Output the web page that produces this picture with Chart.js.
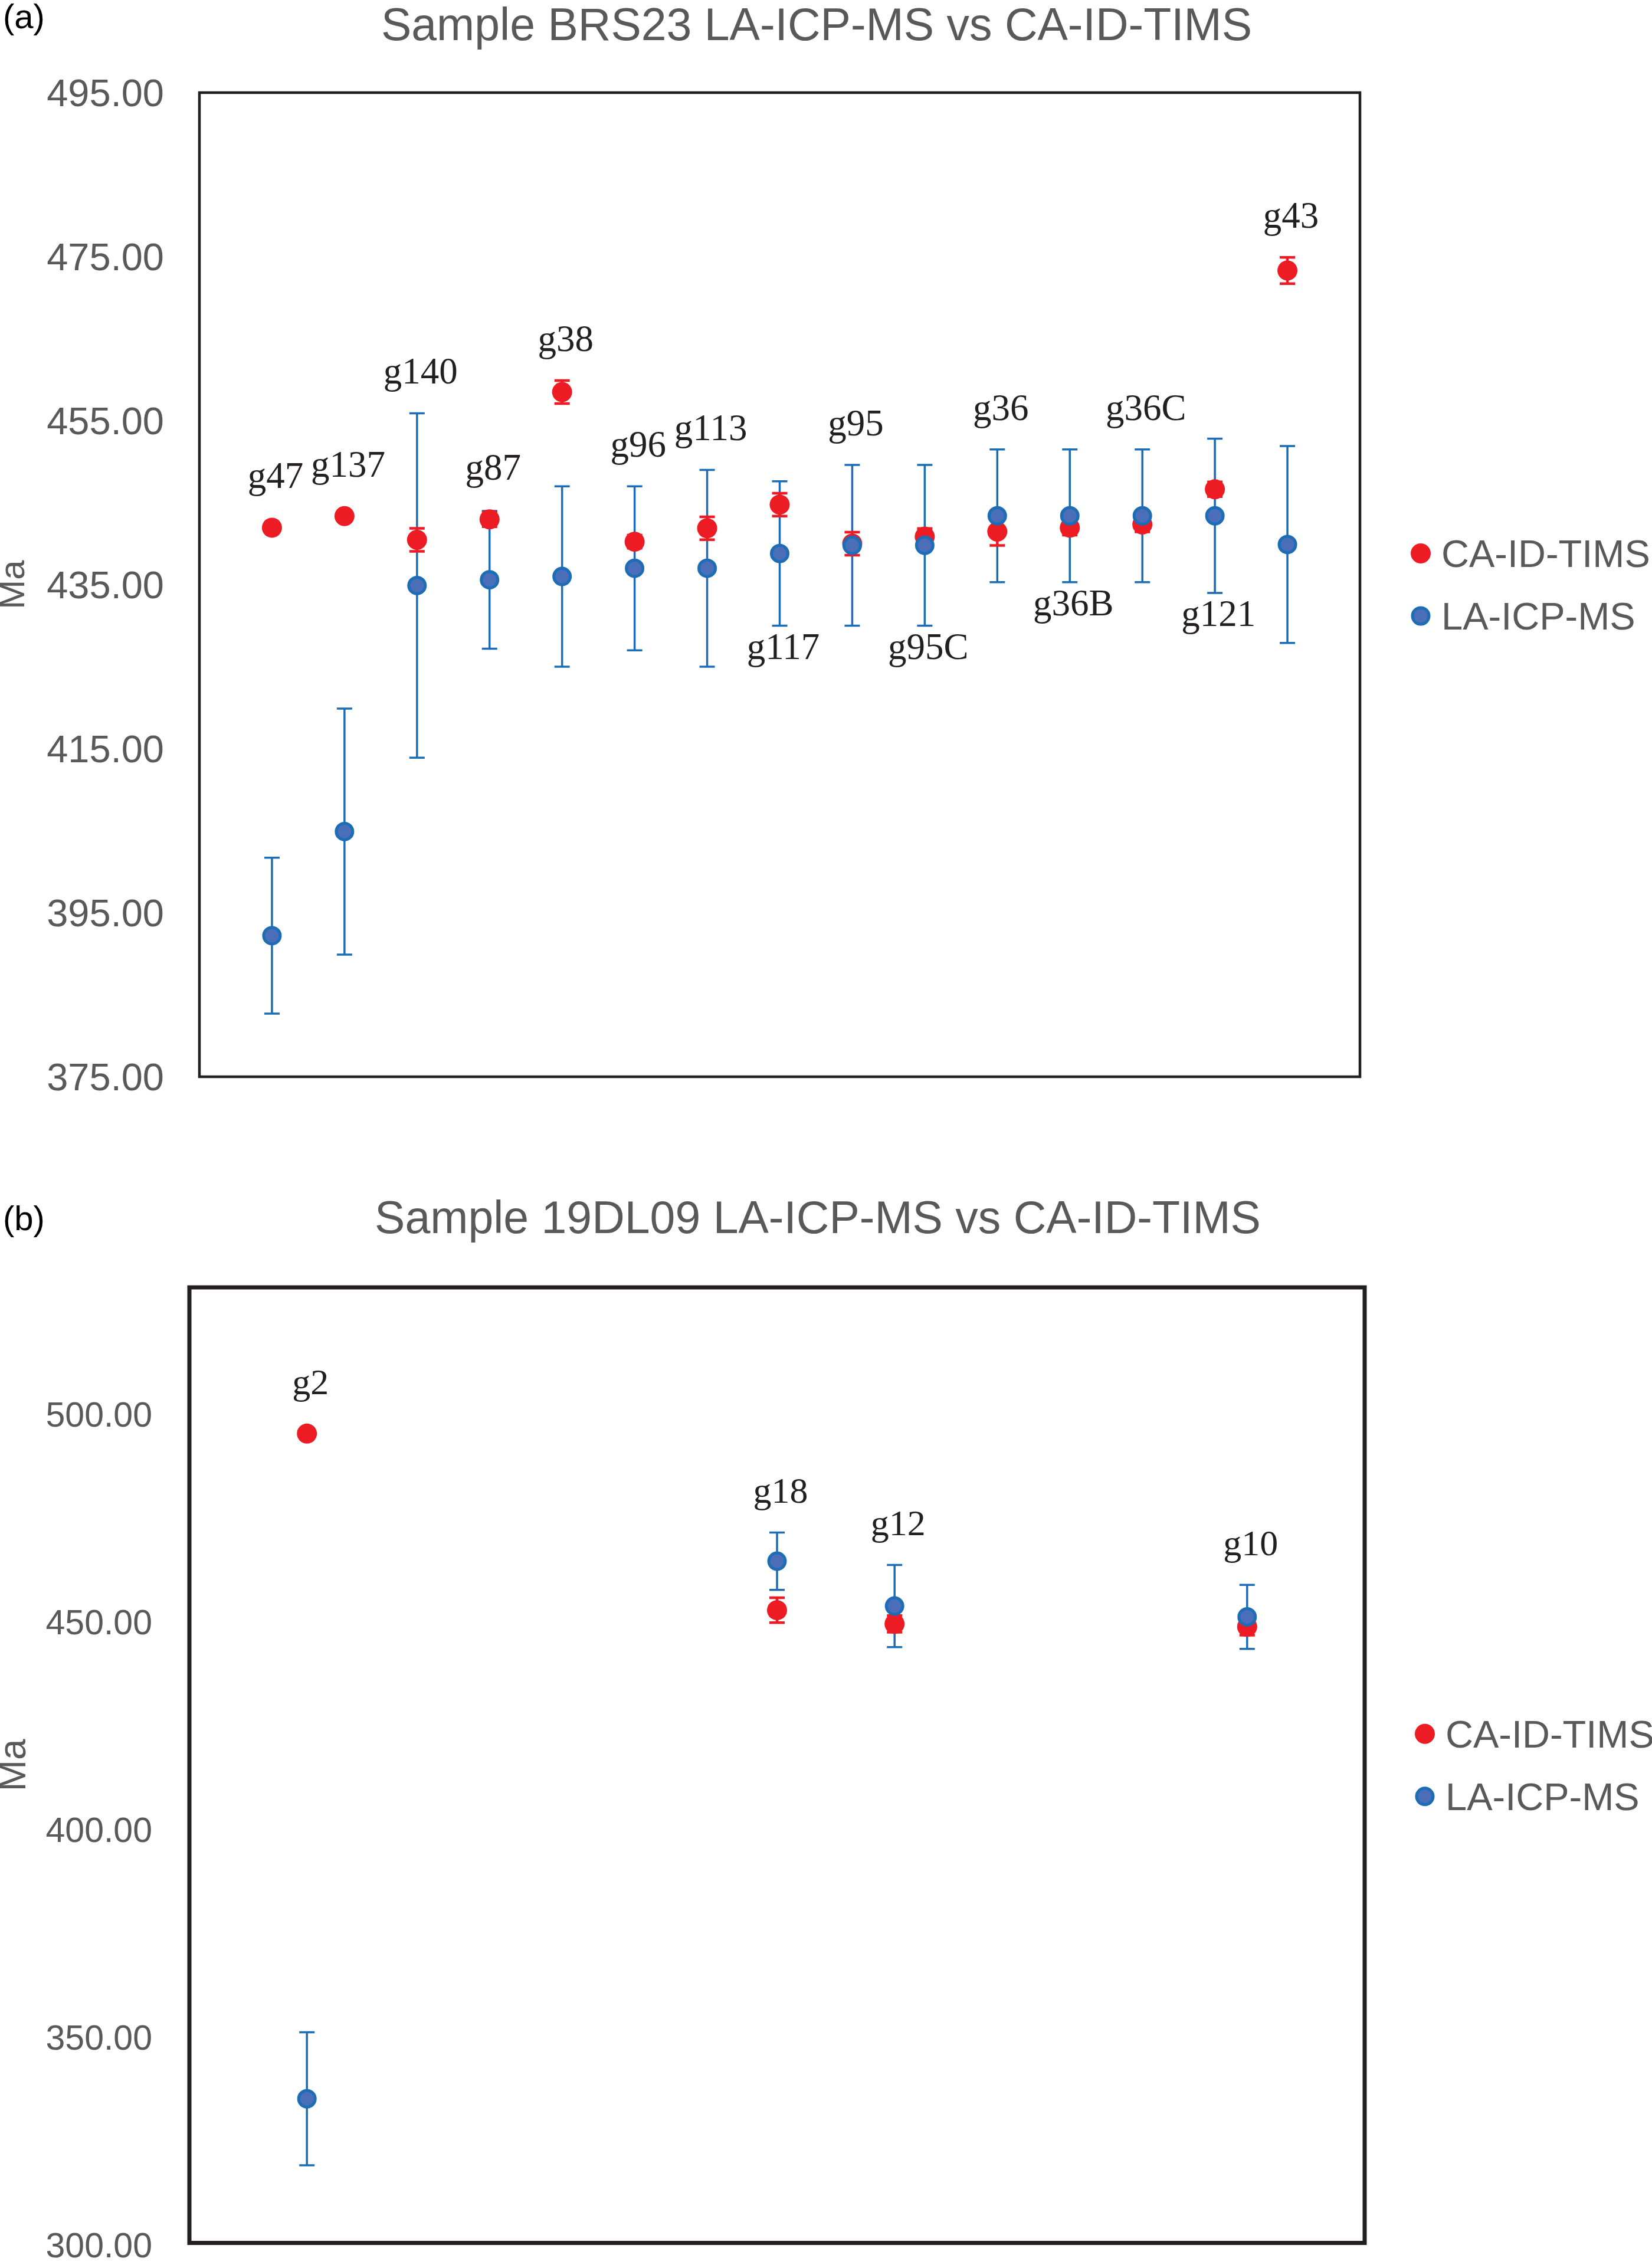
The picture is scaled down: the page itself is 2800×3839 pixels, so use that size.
<!DOCTYPE html>
<html>
<head>
<meta charset="utf-8">
<title>LA-ICP-MS vs CA-ID-TIMS</title>
<script src="https://cdn.jsdelivr.net/npm/chart.js@4.4.1/dist/chart.umd.min.js"></script>
<style>
    html, body { margin: 0; padding: 0; background: #fff; overflow: hidden; }
    body { width: 2800px; height: 3839px; position: relative; }
    canvas { position: absolute; left: 0; }
    #chartA { top: 0; }
    #chartB { top: 1950px; }
</style>
</head>
<body>
<canvas id="chartA" width="2800" height="1950"></canvas>
<canvas id="chartB" width="2800" height="1950"></canvas>
<script>
// ---- (a) Sample BRS23 ----
const grainsA = ['g47', 'g137', 'g140', 'g87', 'g38', 'g96', 'g113', 'g117', 'g95', 'g95C', 'g36', 'g36B', 'g36C', 'g121', 'g43'];
const posA = [1, 2, 3, 4, 5, 6, 7, 8, 9, 10, 11, 12, 13, 14, 15];
const timsA = [441.95, 443.36, 440.47, 442.97, 458.49, 440.24, 441.88, 444.76, 440.0, 440.86, 441.48, 441.95, 442.34, 446.63, 473.31];
const timsErrA = [0.5, 0.5, 1.4, 0.9, 1.4, 0.8, 1.4, 1.4, 1.4, 1.0, 1.7, 0.9, 0.9, 0.9, 1.6];
const laA = [392.2, 404.9, 434.9, 435.6, 436.0, 437.0, 437.0, 438.8, 439.8, 439.8, 443.4, 443.4, 443.4, 443.4, 439.9];
const laErrA = [9.5, 15.0, 21.0, 8.4, 11.0, 10.0, 12.0, 8.8, 9.8, 9.8, 8.1, 8.1, 8.1, 9.4, 12.0];
const labelSideA = ['up', 'up', 'up', 'up', 'up', 'up', 'up', 'down', 'up', 'down', 'up', 'down', 'up', 'down', 'up'];
const yTicksA = [375, 395, 415, 435, 455, 475, 495];

// ---- (b) Sample 19DL09 ----
const grainsB = ['g2', 'g18', 'g12', 'g10'];
const posB = [1, 5, 6, 9];
const timsB = [494.8, 452.3, 449.0, 448.3];
const timsErrB = [1.0, 3.0, 2.0, 2.0];
const laB = [334.7, 464.1, 453.3, 450.7];
const laErrB = [16.0, 6.9, 9.9, 7.7];
const labelSideB = ['up', 'up', 'up', 'up'];
const yTicksB = [300, 350, 400, 450, 500];

const SANS = '"Liberation Sans", Arial, sans-serif';
const SERIF = '"Liberation Serif", "Times New Roman", serif';
const GREY = '#595959';
const RED = '#ed1c24';
const BLUE_FILL = '#4a6fb8';
const BLUE_EDGE = '#1c6cb6';
const CAP = 13;

// error bars under the markers, then frame, labels, legend and titles on top
const overlay = {
    id: 'overlay',
    beforeDatasetsDraw(chart) {
        const ctx = chart.ctx;
        const yScale = chart.scales.y;
        // LA-ICP-MS bars first so the TIMS bars sit above them
        for (let i = chart.data.datasets.length - 1; i >= 0; i--) {
            const ds = chart.data.datasets[i];
            const meta = chart.getDatasetMeta(i);
            ctx.save();
            ctx.strokeStyle = ds.errColor;
            ctx.lineWidth = ds.errWidth;
            meta.data.forEach((pt, j) => {
                const v = ds.data[j].y;
                const e = ds.errors[j];
                const yTop = yScale.getPixelForValue(v + e);
                const yBot = yScale.getPixelForValue(v - e);
                ctx.beginPath();
                ctx.moveTo(pt.x, yTop);
                ctx.lineTo(pt.x, yBot);
                ctx.moveTo(pt.x - CAP, yTop);
                ctx.lineTo(pt.x + CAP, yTop);
                ctx.moveTo(pt.x - CAP, yBot);
                ctx.lineTo(pt.x + CAP, yBot);
                ctx.stroke();
            });
            ctx.restore();
        }
    },
    afterDraw(chart, args, opts) {
        const ctx = chart.ctx;
        const area = chart.chartArea;
        const yScale = chart.scales.y;
        const datasets = chart.data.datasets;

        ctx.save();

        // plot frame
        ctx.strokeStyle = '#231f20';
        ctx.lineWidth = opts.frameWidth;
        ctx.strokeRect(area.left, area.top, area.right - area.left, area.bottom - area.top);

        // grain labels above / below each pair of points
        ctx.fillStyle = '#231f20';
        ctx.font = opts.labelSize + 'px ' + SERIF;
        ctx.textAlign = 'center';
        ctx.textBaseline = 'alphabetic';
        opts.labels.forEach((text, j) => {
            let top = Infinity;
            let bottom = -Infinity;
            datasets.forEach((ds, i) => {
                const pt = chart.getDatasetMeta(i).data[j];
                const r = ds.pointRadius + (ds.borderWidth || 0) / 2;
                const v = ds.data[j].y;
                const e = ds.errors[j];
                top = Math.min(top, pt.y - r, yScale.getPixelForValue(v + e));
                bottom = Math.max(bottom, pt.y + r, yScale.getPixelForValue(v - e));
            });
            const x = chart.getDatasetMeta(0).data[j].x + 6;
            const by = opts.sides[j] === 'down' ? bottom + opts.gapDown : top - opts.gapUp;
            ctx.fillText(text, x, by);
        });

        // legend on the right, centred on the plot
        const midY = (area.top + area.bottom) / 2;
        ctx.font = '65px ' + SANS;
        ctx.textAlign = 'left';
        datasets.forEach((ds, i) => {
            const cy = midY + (i - (datasets.length - 1) / 2) * 106;
            const cx = area.right + opts.legendOffset;
            ctx.beginPath();
            ctx.arc(cx, cy, ds.pointRadius, 0, Math.PI * 2);
            ctx.fillStyle = ds.backgroundColor;
            ctx.fill();
            if (ds.borderWidth) {
                ctx.lineWidth = ds.borderWidth;
                ctx.strokeStyle = ds.borderColor;
                ctx.stroke();
            }
            ctx.fillStyle = GREY;
            ctx.fillText(ds.label, cx + 35, cy + 23);
        });

        // panel tag and title
        ctx.fillStyle = '#000';
        ctx.font = '58px ' + SANS;
        ctx.fillText(opts.tag, 5, opts.tagBaseline);

        ctx.fillStyle = GREY;
        ctx.font = '77px ' + SANS;
        ctx.textAlign = 'center';
        ctx.fillText(opts.title, opts.titleX, opts.titleBaseline);

        ctx.restore();
    }
};

function buildChart(canvasId, cfg) {
    const ctx = document.getElementById(canvasId).getContext('2d');
    return new Chart(ctx, {
        type: 'scatter',
        data: {
            datasets: [
                {
                    label: 'CA-ID-TIMS',
                    data: cfg.pos.map((x, i) => ({ x: x, y: cfg.tims[i] })),
                    errors: cfg.timsErr,
                    backgroundColor: RED,
                    borderWidth: 0,
                    pointRadius: 17,
                    pointHoverRadius: 17,
                    errColor: RED,
                    errWidth: 4.5,
                    order: 1
                },
                {
                    label: 'LA-ICP-MS',
                    data: cfg.pos.map((x, i) => ({ x: x, y: cfg.la[i] })),
                    errors: cfg.laErr,
                    backgroundColor: BLUE_FILL,
                    borderColor: BLUE_EDGE,
                    borderWidth: 5,
                    pointRadius: 14,
                    pointHoverRadius: 14,
                    errColor: BLUE_EDGE,
                    errWidth: 3.5,
                    order: 0
                }
            ]
        },
        options: {
            responsive: false,
            animation: false,
            devicePixelRatio: 1,
            layout: { padding: cfg.padding },
            scales: {
                x: { type: 'linear', min: cfg.xMin, max: cfg.xMax, display: false },
                y: {
                    min: cfg.yMin,
                    max: cfg.yMax,
                    afterBuildTicks: (scale) => {
                        scale.ticks = cfg.yTicks.map(v => ({ value: v }));
                    },
                    afterFit: (scale) => {
                        scale.width = cfg.axisWidth;
                    },
                    grid: { display: false, drawTicks: false },
                    border: { display: false },
                    ticks: {
                        padding: cfg.tickPad,
                        labelOffset: cfg.tickShift,
                        color: GREY,
                        font: { family: SANS, size: cfg.tickSize },
                        callback: v => Number(v).toFixed(2)
                    },
                    title: {
                        display: true,
                        text: 'Ma',
                        color: GREY,
                        padding: 0,
                        font: { family: SANS, size: cfg.maSize, lineHeight: 0.8 }
                    }
                }
            },
            plugins: {
                legend: { display: false },
                tooltip: { enabled: false },
                overlay: cfg.overlay
            }
        },
        plugins: [overlay]
    });
}

buildChart('chartA', {
    pos: posA, tims: timsA, timsErr: timsErrA, la: laA, laErr: laErrA,
    xMin: 0, xMax: 16, yMin: 375, yMax: 495, yTicks: yTicksA,
    padding: { top: 157, right: 495, bottom: 125, left: 0 },
    axisWidth: 338, tickPad: 60, tickShift: 5, tickSize: 65, maSize: 60,
    overlay: {
        labels: grainsA, sides: labelSideA, gapUp: 50, gapDown: 56, labelSize: 63,
        frameWidth: 4.5, legendOffset: 103,
        tag: '(a)', tagBaseline: 48,
        title: 'Sample BRS23 LA-ICP-MS vs CA-ID-TIMS', titleX: 1384, titleBaseline: 68
    }
});

buildChart('chartB', {
    pos: posB, tims: timsB, timsErr: timsErrB, la: laB, laErr: laErrB,
    xMin: 0, xMax: 10, yMin: 300, yMax: 530, yTicks: yTicksB,
    padding: { top: 232, right: 487, bottom: 81, left: 0 },
    axisWidth: 321, tickPad: 63, tickShift: 8, tickSize: 59, maSize: 64,
    overlay: {
        labels: grainsB, sides: labelSideB, gapUp: 50, gapDown: 56, labelSize: 62,
        frameWidth: 7, legendOffset: 102,
        tag: '(b)', tagBaseline: 135,
        title: 'Sample 19DL09 LA-ICP-MS vs CA-ID-TIMS', titleX: 1386, titleBaseline: 140
    }
});
</script>
</body>
</html>
